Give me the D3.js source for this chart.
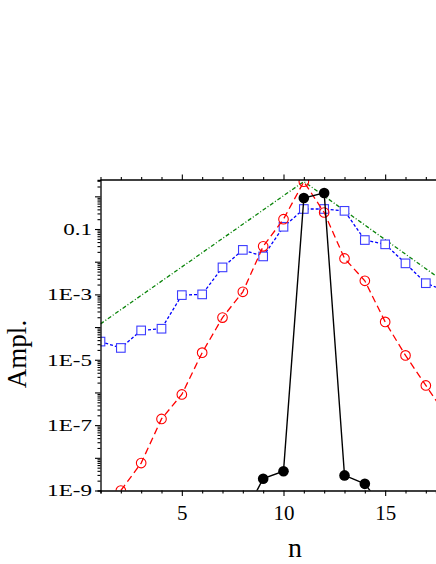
<!DOCTYPE html>
<html>
<head>
<meta charset="utf-8">
<script src="https://cdn.jsdelivr.net/npm/d3@7"></script>
<style>
  body { margin: 0; background: #fff; }
  svg { display: block; font-family: "Liberation Serif", "Times New Roman", serif; }
</style>
</head>
<body>
<svg id="chart"></svg>
<script>
// values
const nBlack = [8, 9, 10, 11, 12, 13, 14, 15];
const ampBlack = [1.5e-10, 2.3e-9, 3.9e-9, 0.89, 1.27, 2.9e-9, 1.6e-9, 2.5e-10];

const nRed = [2, 3, 4, 5, 6, 7, 8, 9, 10, 11, 12, 13, 14, 15, 16, 17, 18];
const ampRed = [1e-9, 6.9e-9, 1.55e-7, 8.7e-7, 1.65e-5, 1.95e-4, 1.2e-3, 0.0295, 0.2, 2.8,
                0.32, 0.0126, 2.6e-3, 1.44e-4, 1.36e-5, 1.64e-6, 2e-7];

const nBlue = [1, 2, 3, 4, 5, 6, 7, 8, 9, 10, 11, 12, 13, 14, 15, 16, 17, 18];
const ampBlue = [3.6e-5, 2.3e-5, 7.9e-5, 8.9e-5, 9.5e-4, 1.0e-3, 6.7e-3, 0.023, 0.0145, 0.117,
                 0.41, 0.41, 0.36, 0.046, 0.034, 8.9e-3, 2.2e-3, 1.26e-3];

const nGreen = [1, 11, 18];
const ampGreen = [1.25e-4, 2.84, 2.2e-3];

const xTicks = d3.range(1, 18);
const xLabelled = [5, 10, 15];
const yMajor = [1, 0.1, 0.01, 1e-3, 1e-4, 1e-5, 1e-6, 1e-7, 1e-8, 1e-9];
const yTickVals = [0.1, 1e-3, 1e-5, 1e-7, 1e-9];
const yTickLabels = ["0.1", "1E-3", "1E-5", "1E-7", "1E-9"];

const width = 436, height = 564;
const plot = { left: 100.5, top: 180, right: 437, bottom: 490.5 };

const svg = d3.select("#chart").attr("width", width).attr("height", height);

const x = d3.scaleLinear().domain([1, 17.5]).range([plot.left, 436]);
const y = d3.scaleLog().domain([1e-9, 3.16]).range([plot.bottom, plot.top]);

svg.append("clipPath").attr("id", "clip")
  .append("rect")
  .attr("x", plot.left).attr("y", plot.top)
  .attr("width", plot.right - plot.left).attr("height", plot.bottom - plot.top);

const g = svg.append("g").attr("clip-path", "url(#clip)");

const zip = (xs, ys) => xs.map((d, i) => ({ n: d, a: ys[i] }));
const line = d3.line().x(d => x(d.n)).y(d => y(d.a));

// green dash-dot envelope
g.append("path").datum(zip(nGreen, ampGreen))
  .attr("d", line).attr("fill", "none")
  .attr("stroke", "#0a840a").attr("stroke-width", 1.3)
  .attr("stroke-dasharray", "4,2,1,2");

// blue squares
g.append("path").datum(zip(nBlue, ampBlue))
  .attr("d", line).attr("fill", "none")
  .attr("stroke", "#0000ff").attr("stroke-width", 1.3)
  .attr("stroke-dasharray", "3,2");
g.selectAll("rect.sq").data(zip(nBlue, ampBlue)).join("rect")
  .attr("class", "sq")
  .attr("x", d => x(d.n) - 4.3).attr("y", d => y(d.a) - 4.3)
  .attr("width", 8.6).attr("height", 8.6)
  .attr("fill", "#fff").attr("stroke", "#3d3dff").attr("stroke-width", 1.1);

// red circles
g.append("path").datum(zip(nRed, ampRed))
  .attr("d", line).attr("fill", "none")
  .attr("stroke", "#ff0000").attr("stroke-width", 1.3)
  .attr("stroke-dasharray", "7,4");
g.selectAll("circle.rc").data(zip(nRed, ampRed)).join("circle")
  .attr("class", "rc")
  .attr("cx", d => x(d.n)).attr("cy", d => y(d.a)).attr("r", 4.8)
  .attr("fill", "none").attr("stroke", "#ff0000").attr("stroke-width", 1.1);

// black solid
g.append("path").datum(zip(nBlack, ampBlack))
  .attr("d", line).attr("fill", "none")
  .attr("stroke", "#000").attr("stroke-width", 1.4);
g.selectAll("circle.bc").data(zip(nBlack, ampBlack)).join("circle")
  .attr("class", "bc")
  .attr("cx", d => x(d.n)).attr("cy", d => y(d.a)).attr("r", 5.3)
  .attr("fill", "#000");

// axes
const styleAxis = sel => {
  sel.select(".domain").attr("stroke-width", 1.3);
  sel.selectAll(".tick line").attr("stroke-width", 1.1);
};

const xAxis = svg.append("g")
  .attr("transform", `translate(0,${plot.bottom})`)
  .call(d3.axisBottom(x).tickValues(xTicks).tickSizeOuter(0).tickSize(3)
    .tickFormat(d => xLabelled.includes(d) ? d : ""));
xAxis.call(styleAxis);
xAxis.selectAll(".tick line").filter(d => xLabelled.includes(d)).attr("y2", 5.5);
xAxis.selectAll(".tick text")
  .attr("y", 29).attr("dy", 0)
  .attr("font-size", 21).attr("font-family", "Liberation Serif");

const topAxis = svg.append("g")
  .attr("transform", `translate(0,${plot.top})`)
  .call(d3.axisTop(x).tickValues(xTicks).tickSizeOuter(0).tickSize(3).tickFormat(""));
topAxis.call(styleAxis);
topAxis.selectAll(".tick line").filter(d => xLabelled.includes(d)).attr("y2", -5.5);
topAxis.select(".domain").attr("d", `M${plot.left},0H${width}`);

const yMinor = [];
yMajor.forEach(m => { for (let k = 2; k <= 9; k++) if (m * k <= 3.16) yMinor.push(m * k); });

const yAxis = svg.append("g")
  .attr("transform", `translate(${plot.left},0)`)
  .call(d3.axisLeft(y).tickValues(yMajor.concat(yMinor)).tickSizeOuter(0).tickSize(3).tickFormat(""));
yAxis.call(styleAxis);
yAxis.selectAll(".tick line").filter(d => yMajor.includes(d)).attr("x2", -5.5);

// y labels: the reference font is horizontally stretched
svg.append("g").selectAll("text")
  .data(yTickVals).join("text")
  .attr("transform", d => `translate(92,${y(d)}) scale(1.32,1)`)
  .attr("text-anchor", "end").attr("dy", "0.34em")
  .attr("font-size", 17.5)
  .text((d, i) => yTickLabels[i]);

svg.append("text")
  .attr("transform", "translate(25.5,354) rotate(-90)")
  .attr("text-anchor", "middle")
  .attr("font-size", 27)
  .text("Ampl.");

svg.append("text")
  .attr("x", 295).attr("y", 557)
  .attr("text-anchor", "middle")
  .attr("font-size", 28)
  .text("n");
</script>
</body>
</html>
